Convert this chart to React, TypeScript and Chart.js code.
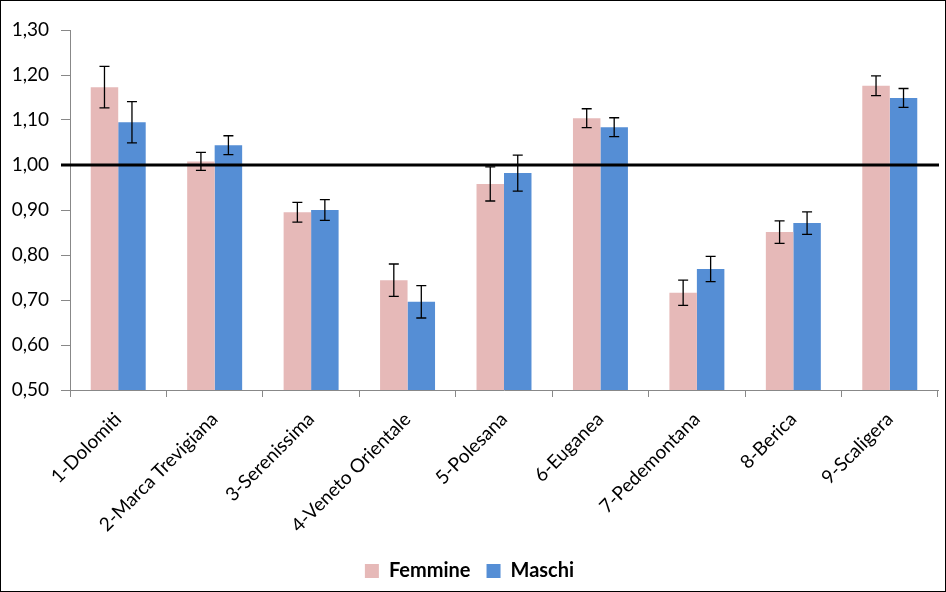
import React, { useEffect, useRef } from "react";
import { Chart, registerables } from "chart.js";

Chart.register(...registerables);

const categories = [
  "1-Dolomiti",
  "2-Marca Trevigiana",
  "3-Serenissima",
  "4-Veneto Orientale",
  "5-Polesana",
  "6-Euganea",
  "7-Pedemontana",
  "8-Berica",
  "9-Scaligera",
];
const femmine = [1.173, 1.008, 0.895, 0.744, 0.958, 1.104, 0.716, 0.851, 1.176];
const femmineErr = [0.046, 0.02, 0.022, 0.036, 0.038, 0.021, 0.028, 0.025, 0.022];
const maschi = [1.095, 1.044, 0.9, 0.696, 0.982, 1.084, 0.769, 0.871, 1.149];
const maschiErr = [0.046, 0.021, 0.023, 0.036, 0.04, 0.021, 0.028, 0.025, 0.021];
const referenceValue = 1.0;

const FONT = "Lato, 'Open Sans', sans-serif";

const errorBarsPlugin = {
  id: "errorBars",
  afterDatasetsDraw(chart: any) {
    const ctx = chart.ctx;
    const y = chart.scales.y;
    const errs = [femmineErr, maschiErr];
    ctx.save();
    ctx.strokeStyle = "#000";
    ctx.lineWidth = 1.3;
    chart.data.datasets.forEach((ds: any, di: number) => {
      const meta = chart.getDatasetMeta(di);
      meta.data.forEach((bar: any, i: number) => {
        const v = ds.data[i];
        const e = errs[di][i];
        const yt = y.getPixelForValue(v + e);
        const yb = y.getPixelForValue(v - e);
        const x = bar.x;
        ctx.beginPath();
        ctx.moveTo(x, yt);
        ctx.lineTo(x, yb);
        ctx.moveTo(x - 5, yt);
        ctx.lineTo(x + 5, yt);
        ctx.moveTo(x - 5, yb);
        ctx.lineTo(x + 5, yb);
        ctx.stroke();
      });
    });
    // reference line at 1.00
    const yr = y.getPixelForValue(referenceValue);
    ctx.strokeStyle = "#000";
    ctx.lineWidth = 3;
    ctx.beginPath();
    ctx.moveTo(chart.chartArea.left - 9, yr);
    ctx.lineTo(chart.chartArea.right + 1, yr);
    ctx.stroke();
    ctx.restore();
  },
};

export default function App() {
  const ref = useRef<HTMLCanvasElement>(null);
  useEffect(() => {
    document.body.style.margin = "0";
    const chart = new Chart(ref.current!, {
      type: "bar",
      data: {
        labels: categories,
        datasets: [
          { label: "Femmine", data: femmine, backgroundColor: "#E6B9B8" },
          { label: "Maschi", data: maschi, backgroundColor: "#558ED5" },
        ],
      },
      options: {
        animation: false,
        responsive: false,
        layout: { padding: { top: 29, right: 7, left: 0, bottom: 0 } },
        datasets: { bar: { categoryPercentage: 0.57, barPercentage: 1 } },
        scales: {
          x: {
            afterFit: (scale: any) => {
              scale.height = 155;
            },
            grid: {
              display: true,
              drawOnChartArea: false,
              drawTicks: true,
              tickLength: 7,
              color: "#888",
              offset: true,
            },
            border: { display: true, color: "#888", width: 1 },
            ticks: {
              color: "#000",
              font: { family: FONT, size: 19 },
              maxRotation: 45,
              minRotation: 45,
              padding: 11,
            },
          },
          y: {
            min: 0.5,
            max: 1.3,
            afterFit: (scale: any) => {
              scale.width = 69;
            },
            grid: {
              display: true,
              drawOnChartArea: false,
              drawTicks: true,
              tickLength: 9,
              color: "#888",
            },
            border: { display: true, color: "#888", width: 1 },
            ticks: {
              stepSize: 0.1,
              color: "#000",
              padding: 12,
              font: { family: FONT, size: 19 },
              callback: (v: any) => Number(v).toFixed(2).replace(".", ","),
            },
          },
        },
        plugins: {
          legend: {
            position: "bottom",
            labels: {
              color: "#000",
              boxWidth: 14,
              boxHeight: 14,
              padding: 16,
              font: { family: FONT, size: 20, weight: "bold" },
            },
          },
          tooltip: { enabled: false },
        },
      },
      plugins: [errorBarsPlugin],
    });
    return () => chart.destroy();
  }, []);
  return (
    <div
      style={{
        width: 946,
        height: 592,
        boxSizing: "border-box",
        border: "1px solid #000",
        background: "#fff",
      }}
    >
      <canvas ref={ref} width={944} height={590} style={{ display: "block" }} />
    </div>
  );
}
